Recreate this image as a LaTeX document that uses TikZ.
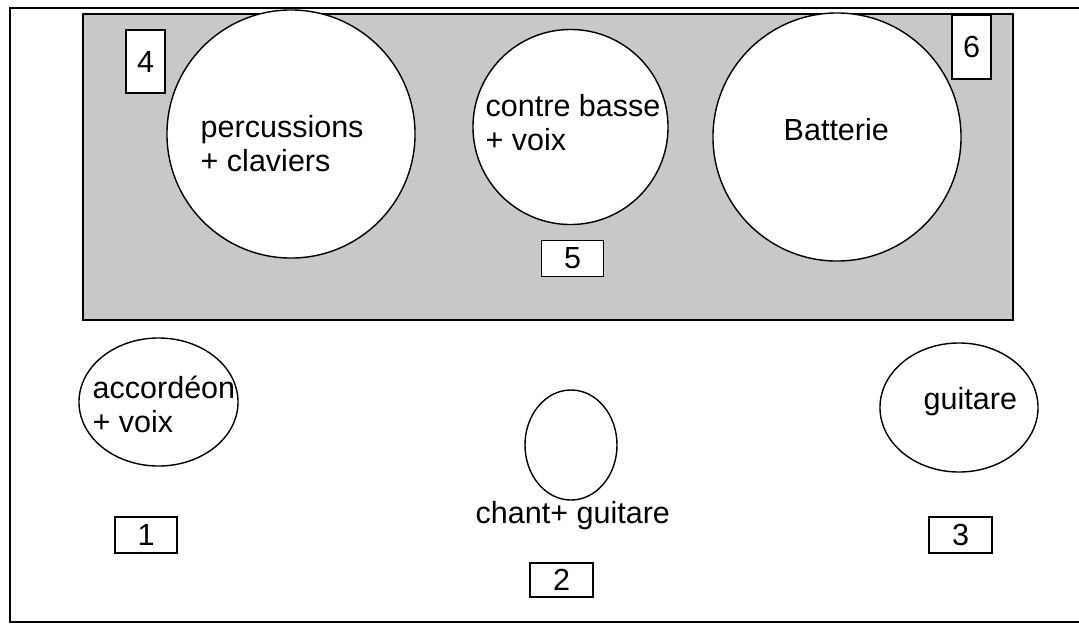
\documentclass[tikz,border=0pt]{standalone}
\usepackage{fontspec}
\setmainfont{Liberation Sans}
\usepackage{tikz}
\usepackage{xcolor}
\usetikzlibrary{calc,shapes.geometric}

\definecolor{stagegrey}{RGB}{200,200,200}
\newcommand{\planfont}{\fontsize{21.7}{23.8}\selectfont}

\begin{document}
\begin{tikzpicture}[x=0.025cm,y=-0.025cm]
    \tikzstyle{every node}=[inner sep=0pt, line width=1pt, font=\planfont]
    \tikzstyle{seat}=[draw,circle,fill=white]
    \tikzstyle{oval}=[draw,ellipse,fill=white]
    \tikzstyle{numbox}=[draw,rectangle,fill=white]
    \tikzstyle{lbl}=[align=left,anchor=base west]
    \useasboundingbox (0,0) rectangle (1079,626);

    % frame and stage
    \draw[line width=1.3pt] (1079,8) -- (10,8) -- (10,622) -- (1079,622);
    \draw[line width=1.3pt,fill=stagegrey] (83,14) rectangle (1013,320);

    \node[seat,minimum size=6.2cm] (perc) at (291,134) {};
    \node[seat,minimum size=4.875cm] (cb) at (570.5,127) {};
    \node[seat,minimum size=6.2cm] (batt) at (837,137) {};

    \node[lbl] (lperc) at ($(perc)+(-91,37)$) {percussions\\+ claviers};
    \node[lbl] (lcb) at ($(cb)+(-85.5,23)$) {contre basse\\+ voix};
    \node[lbl] (lbatt) at ($(batt)+(-54,3)$) {Batterie};

    \node[numbox,minimum width=0.975cm,minimum height=1.575cm] (n4) at (145.5,61.5) {4};
    \node[numbox,minimum width=1.55cm,minimum height=0.9cm] (n5) at (572.5,258.5) {5};
    \node[numbox,minimum width=0.975cm,minimum height=1.6cm] (n6) at (971.5,47) {6};

    % front line
    \node[oval,minimum width=3.975cm,minimum height=3.2cm] (acc) at (158.5,402) {};
    \node[oval,minimum width=2.3cm,minimum height=2.75cm] (chant) at (571,445) {};
    \node[oval,minimum width=3.95cm,minimum height=3.225cm] (guit) at (959,407.5) {};

    \node[lbl] (lacc) at ($(acc)+(-66.5,30)$) {accordéon\\+ voix};
    \node[lbl] (lchant) at ($(chant)+(-96,78)$) {chant+ guitare};
    \node[lbl] (lguit) at ($(guit)+(-36,1.5)$) {guitare};

    \node[numbox,minimum width=1.55cm,minimum height=0.9cm] (n1) at (146,535) {1};
    \node[numbox,minimum width=1.575cm,minimum height=0.85cm] (n2) at (561.5,580) {2};
    \node[numbox,minimum width=1.575cm,minimum height=0.9cm] (n3) at (960.5,535) {3};
\end{tikzpicture}
\end{document}
